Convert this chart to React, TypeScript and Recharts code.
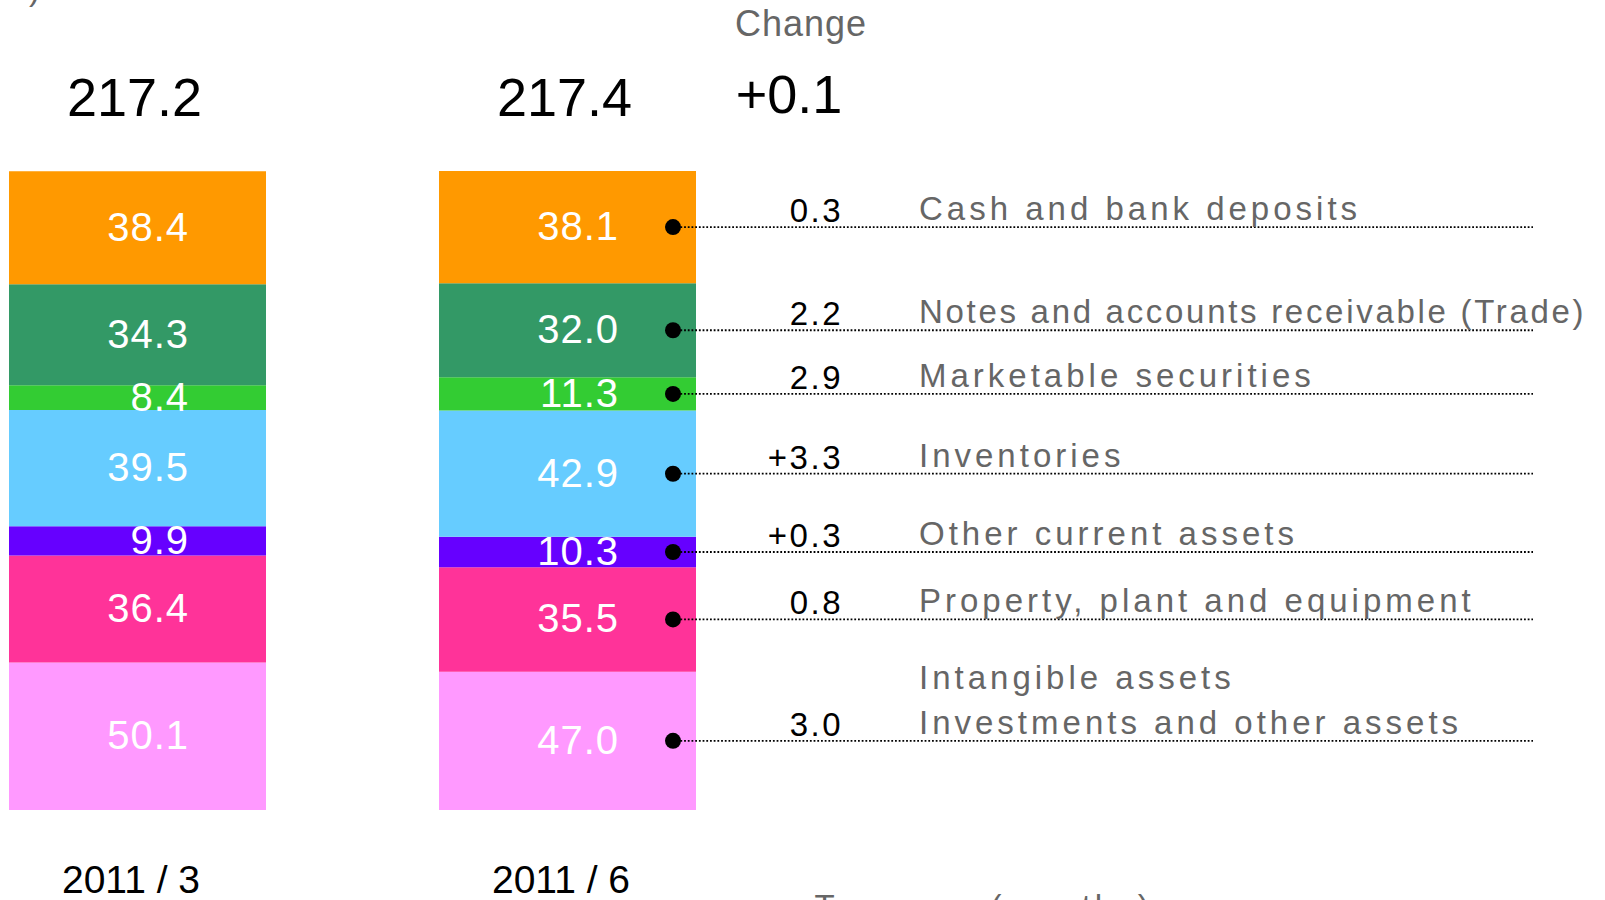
import { BarChart, Bar, XAxis, YAxis, LabelList } from 'recharts'

// values in billion yen
const periods = ['2011 / 3', '2011 / 6']
const totals = ['217.2', '217.4']
const totalChange = '+0.1'

const seriesKeys = ['investments', 'ppe', 'otherCurrent', 'inventories', 'securities', 'notes', 'cash']
const seriesNames = [
  ['Intangible assets', 'Investments and other assets'],
  ['Property, plant and equipment'],
  ['Other current assets'],
  ['Inventories'],
  ['Marketable securities'],
  ['Notes and accounts receivable (Trade)'],
  ['Cash and bank deposits'],
]
const seriesColors = ['#FF99FF', '#FF3399', '#6600FF', '#66CCFF', '#33CC33', '#339966', '#FF9900']

const investments = [50.1, 47.0]
const ppe = [36.4, 35.5]
const otherCurrent = [9.9, 10.3]
const inventories = [39.5, 42.9]
const securities = [8.4, 11.3]
const notes = [34.3, 32.0]
const cash = [38.4, 38.1]

const changes = ['3.0', '0.8', '+0.3', '+3.3', '2.9', '2.2', '0.3']

const seriesValues = [investments, ppe, otherCurrent, inventories, securities, notes, cash]

const data = periods.map((period, i) => {
  const row: Record<string, string | number> = { period }
  seriesKeys.forEach((k, s) => {
    row[k] = seriesValues[s][i]
  })
  return row
})

const SHIFT = 78
const W = 1605 + SHIFT
const H = 900
const FONT = '"Liberation Sans", Arial, sans-serif'
const GRAY = '#666666'
const LINE_END = 1533 + SHIFT

function SegmentLabel(props: any, s: number) {
  const { x, y, width, height, value, index } = props
  const cy = y + height / 2
  const dotX = x + width - 23
  const isTop = s === seriesKeys.length - 1
  const names = seriesNames[s]
  return (
    <g>
      <text
        x={x + 180}
        y={cy + 13}
        textAnchor="end"
        fill="#fff"
        fontSize={40}
        fontFamily={FONT}
        letterSpacing={1}
      >
        {Number(value).toFixed(1)}
      </text>
      {isTop && (
        <text
          x={x + width / 2 - 3}
          y={116}
          textAnchor="middle"
          fill="#000"
          fontSize={54}
          fontFamily={FONT}
        >
          {totals[index]}
        </text>
      )}
      {index === 1 && (
        <g>
          <line
            x1={dotX}
            y1={cy}
            x2={LINE_END}
            y2={cy}
            stroke="#000"
            strokeWidth={1.8}
            strokeDasharray="1.8 1.9"
          />
          <circle cx={dotX} cy={cy} r={8} fill="#000" />
          <text
            x={843 + SHIFT}
            y={cy - 5}
            textAnchor="end"
            fill="#000"
            fontSize={33}
            fontFamily={FONT}
            letterSpacing={2.5}
          >
            {changes[s]}
          </text>
          {names.map((n, k) => (
            <text
              key={n}
              x={919 + SHIFT}
              y={cy - 7 - (names.length - 1 - k) * 45}
              fill={GRAY}
              fontSize={33}
              fontFamily={FONT}
              letterSpacing={n.length > 30 ? 2.7 : 4}
            >
              {n}
            </text>
          ))}
        </g>
      )}
    </g>
  )
}

function PeriodTick(props: any) {
  const { x, payload } = props
  return (
    <text x={x - 6} y={893} textAnchor="middle" fill="#000" fontSize={39} fontFamily={FONT}>
      {payload.value}
    </text>
  )
}

export default function App() {
  return (
    <div
      style={{
        position: 'absolute',
        left: 0,
        top: 0,
        width: 1605,
        height: 900,
        overflow: 'hidden',
        background: '#fff',
      }}
    >
      <div style={{ position: 'absolute', left: -SHIFT, top: 0 }}>
        <BarChart
          width={W}
          height={H}
          data={data}
          margin={{ top: 171, right: W - 860, bottom: 60, left: 0 }}
          barSize={257}
        >
          <XAxis
            dataKey="period"
            axisLine={false}
            tickLine={false}
            height={30}
            tick={<PeriodTick />}
          />
          <YAxis hide domain={[0, 217.1]} />
          {seriesKeys.map((k, s) => (
            <Bar key={k} dataKey={k} stackId="a" fill={seriesColors[s]} isAnimationActive={false}>
              <LabelList dataKey={k} content={(p: any) => SegmentLabel(p, s)} />
            </Bar>
          ))}
          <text x={801 + SHIFT} y={36} textAnchor="middle" fill={GRAY} fontSize={36} fontFamily={FONT} letterSpacing={1}>
            Change
          </text>
          <text x={789 + SHIFT} y={113} textAnchor="middle" fill="#000" fontSize={54} fontFamily={FONT}>
            {totalChange}
          </text>
          <text x={40 + SHIFT} y={0} textAnchor="end" fill={GRAY} fontSize={33} fontFamily={FONT}>
            (Billion Yen)
          </text>
          <text x={778 + SHIFT} y={918} fill={GRAY} fontSize={33} fontFamily={FONT} letterSpacing={4}>
            ■ Turnover (months)
          </text>
        </BarChart>
      </div>
    </div>
  )
}
